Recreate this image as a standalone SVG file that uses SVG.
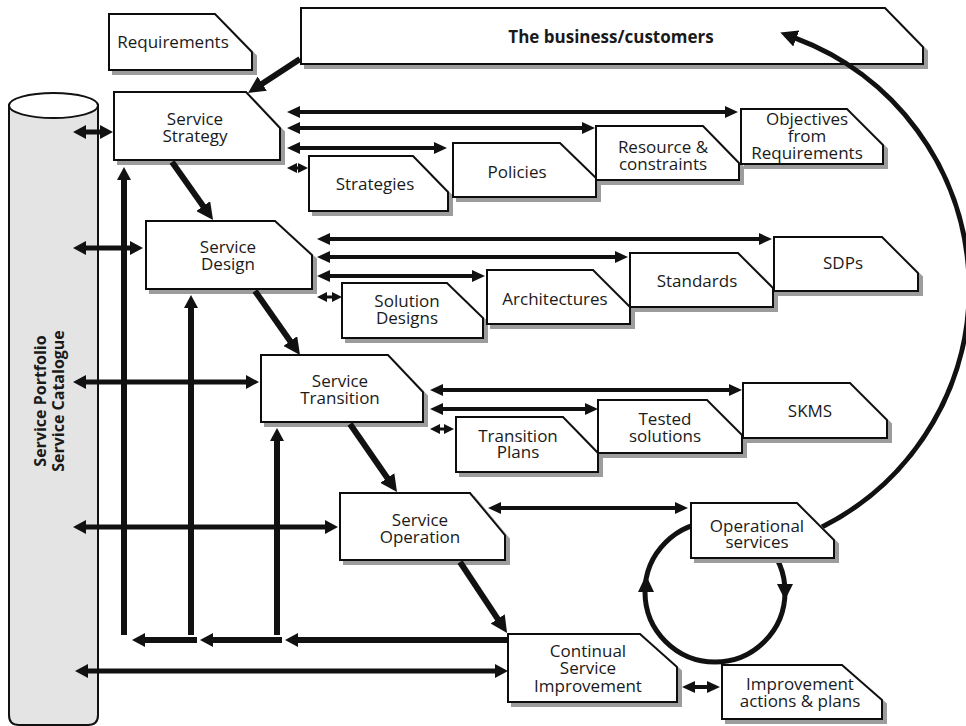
<svg xmlns="http://www.w3.org/2000/svg" width="966" height="726" viewBox="0 0 966 726">
  <style>
    .bx{fill:#fff;stroke:#111;stroke-width:2;filter:url(#ds)}
    .t{font-family:"Open Sans","Liberation Sans",sans-serif;font-size:17px;fill:#1a1a1a;text-anchor:middle}
    .tb{font-weight:bold}
    .vt{font-family:"Open Sans","Liberation Sans",sans-serif;font-size:16px;font-weight:bold;fill:#1a1a1a;text-anchor:middle}
    .l3{stroke:#111;stroke-width:3;fill:none;marker-start:url(#a3);marker-end:url(#a3)}
    .l4{stroke:#111;stroke-width:4;fill:none;marker-start:url(#a4);marker-end:url(#a4)}
    .l5{stroke:#111;stroke-width:5;fill:none;marker-start:url(#a6);marker-end:url(#a6)}
    .up{stroke:#111;stroke-width:6;fill:none;marker-end:url(#a6)}
    .dg{stroke:#111;stroke-width:6;fill:none;marker-end:url(#a7)}
    .hd{fill:#111}
  </style>
  <defs>
    <filter id="ds" x="-5%" y="-10%" width="115%" height="130%">
      <feOffset in="SourceAlpha" dx="4" dy="4" result="o"/>
      <feFlood flood-color="#9c9c9c"/>
      <feComposite in2="o" operator="in" result="s"/>
      <feGaussianBlur in="s" stdDeviation="0.7" result="b"/>
      <feMerge><feMergeNode in="b"/><feMergeNode in="SourceGraphic"/></feMerge>
    </filter>
    <marker id="a3" markerUnits="userSpaceOnUse" viewBox="0 0 10 10" markerWidth="10" markerHeight="10" refX="1" refY="5" orient="auto-start-reverse">
      <path d="M0,0 L10,5 L0,10 z" fill="#111"/>
    </marker>
    <marker id="a4" markerUnits="userSpaceOnUse" viewBox="0 0 13 12" markerWidth="13" markerHeight="12" refX="1" refY="6" orient="auto-start-reverse">
      <path d="M0,0 L13,6 L0,12 z" fill="#111"/>
    </marker>
    <marker id="a6" markerUnits="userSpaceOnUse" viewBox="0 0 13 14" markerWidth="13" markerHeight="14" refX="1" refY="7" orient="auto-start-reverse">
      <path d="M0,0 L13,7 L0,14 z" fill="#111"/>
    </marker>
    <marker id="a7" markerUnits="userSpaceOnUse" viewBox="0 0 17 17" markerWidth="17" markerHeight="17" refX="1" refY="8.5" orient="auto">
      <path d="M0,0 L17,8.5 L0,17 z" fill="#111"/>
    </marker>
  </defs>

  <rect width="966" height="726" fill="#fff"/>

  <!-- repository cylinder on the left -->
  <g id="portfolio">
    <path d="M9,105 L9,715 Q9,725 19,725 L88,725 Q98,725 98,715 L98,105 Z" fill="#e4e4e4" stroke="#111" stroke-width="2"/>
    <ellipse cx="53.5" cy="105.5" rx="44.5" ry="12.5" fill="#fff" stroke="#111" stroke-width="2"/>
    <text class="vt" transform="translate(45.5,401) rotate(-90)">Service Portfolio</text>
    <text class="vt" transform="translate(64,401) rotate(-90)">Service Catalogue</text>
  </g>

  <g id="requirements">
    <polygon class="bx" points="109,14 215,14 252,52 252,70 109,70"/>
    <text class="t" x="173" y="48">Requirements</text>
  </g>
  <g id="business">
    <polygon class="bx" points="301,8 885,8 923,47 923,64 301,64"/>
    <text class="t tb" x="611" y="43">The business/customers</text>
  </g>

  <g id="service-strategy">
    <polygon class="bx" points="114,92 246,92 280,128 280,160 114,160"/>
    <text class="t" x="195" y="125">Service</text>
    <text class="t" x="195" y="142">Strategy</text>
  </g>
  <g id="service-design">
    <polygon class="bx" points="146,221 275,221 312,255 312,289 146,289"/>
    <text class="t" x="228" y="253">Service</text>
    <text class="t" x="228" y="270">Design</text>
  </g>
  <g id="service-transition">
    <polygon class="bx" points="261,355 388,355 423,392 423,422 261,422"/>
    <text class="t" x="340" y="387">Service</text>
    <text class="t" x="340" y="404">Transition</text>
  </g>
  <g id="service-operation">
    <polygon class="bx" points="340,493 470,493 505,535 505,560 340,560"/>
    <text class="t" x="420" y="526">Service</text>
    <text class="t" x="420" y="543">Operation</text>
  </g>
  <g id="csi">
    <polygon class="bx" points="508,634 640,634 677,667 677,702 508,702"/>
    <text class="t" x="588" y="657">Continual</text>
    <text class="t" x="588" y="674">Service</text>
    <text class="t" x="588" y="692">Improvement</text>
  </g>

  <g id="strategies">
    <polygon class="bx" points="309,156 413,156 448,192 448,211 309,211"/>
    <text class="t" x="375" y="190">Strategies</text>
  </g>
  <g id="policies">
    <polygon class="bx" points="453,143 560,143 596,178 596,197 453,197"/>
    <text class="t" x="517" y="178">Policies</text>
  </g>
  <g id="resources">
    <polygon class="bx" points="596,126 703,126 739,163 739,180 596,180"/>
    <text class="t" x="663" y="153">Resource &amp;</text>
    <text class="t" x="663" y="170">constraints</text>
  </g>
  <g id="objectives">
    <polygon class="bx" points="741,109 847,109 883,145 883,164 741,164"/>
    <text class="t" x="807" y="125">Objectives</text>
    <text class="t" x="807" y="142">from</text>
    <text class="t" x="807" y="159">Requirements</text>
  </g>

  <g id="solution-designs">
    <polygon class="bx" points="342,283 447,283 483,318 483,338 342,338"/>
    <text class="t" x="407" y="307">Solution</text>
    <text class="t" x="407" y="324">Designs</text>
  </g>
  <g id="architectures">
    <polygon class="bx" points="487,270 593,270 630,307 630,324 487,324"/>
    <text class="t" x="555" y="305">Architectures</text>
  </g>
  <g id="standards">
    <polygon class="bx" points="630,253 738,253 773,288 773,307 630,307"/>
    <text class="t" x="697" y="287">Standards</text>
  </g>
  <g id="sdps">
    <polygon class="bx" points="774,237 882,237 918,273 918,291 774,291"/>
    <text class="t" x="843" y="269">SDPs</text>
  </g>

  <g id="transition-plans">
    <polygon class="bx" points="456,417 563,417 598,453 598,472 456,472"/>
    <text class="t" x="518" y="442">Transition</text>
    <text class="t" x="518" y="458">Plans</text>
  </g>
  <g id="tested-solutions">
    <polygon class="bx" points="598,400 707,400 742,435 742,453 598,453"/>
    <text class="t" x="665" y="425">Tested</text>
    <text class="t" x="665" y="442">solutions</text>
  </g>
  <g id="skms">
    <polygon class="bx" points="743,383 850,383 887,420 887,438 743,438"/>
    <text class="t" x="810" y="417">SKMS</text>
  </g>

  <g id="improvement-actions">
    <polygon class="bx" points="722,665 842,665 882,700 882,719 722,719"/>
    <text class="t" x="800" y="690">Improvement</text>
    <text class="t" x="800" y="707">actions &amp; plans</text>
  </g>

  <g id="connectors">
    <!-- lifecycle stages to and from the portfolio -->
    <path class="l5" d="M85,132 L101,132"/>
    <path class="l5" d="M85,248 L131,248"/>
    <path class="l5" d="M85,382 L247,382"/>
    <path class="l5" d="M85,527 L326,527"/>
    <path class="l5" d="M87,671 L496,671"/>

    <!-- improvement feedback paths -->
    <path class="up" d="M124,635 L124,179"/>
    <path class="up" d="M191,635 L191,307"/>
    <path class="up" d="M277,635 L277,440"/>
    <path class="up" d="M507,640 L297,640"/>
    <path class="up" d="M282,640 L212,640"/>
    <path class="up" d="M197,640 L144,640"/>

    <!-- stage to stage -->
    <path class="dg" d="M300,59 L261.4,84.2" stroke-width="5"/>
    <path class="dg" d="M172,162 L203.8,206.9"/>
    <path class="dg" d="M255,291 L290.8,341.9"/>
    <path class="dg" d="M350,424 L387.9,478.8"/>
    <path class="dg" d="M460,562 L498.2,619.7"/>

    <!-- strategy outputs -->
    <path class="l4" d="M299,112 L726,112"/>
    <path class="l4" d="M299,128 L583,128"/>
    <path class="l4" d="M299,148 L435,148"/>
    <path class="l3" d="M296,168 L299,168"/>

    <!-- design outputs -->
    <path class="l4" d="M329,239 L760,239"/>
    <path class="l4" d="M329,257 L616,257"/>
    <path class="l4" d="M329,276 L473,276"/>
    <path class="l3" d="M326,297 L333,297"/>

    <!-- transition outputs -->
    <path class="l4" d="M442,390 L730,390"/>
    <path class="l4" d="M442,409 L586,409"/>
    <path class="l3" d="M439,429 L445,429"/>

    <!-- operation and improvement outputs -->
    <path class="l4" d="M500,508 L676,508"/>
    <path class="l4" d="M694,687 L708,687"/>

    <!-- service loop and return to the business -->
    <circle cx="715" cy="592" r="70" fill="none" stroke="#111" stroke-width="5"/>
    <polygon class="hd" points="777,584 793,584 785,600"/>
    <polygon class="hd" points="638,592 654,592 646,575"/>
    <path d="M822,527 A267,267 0 0 0 795.3,38.2" fill="none" stroke="#111" stroke-width="5" marker-end="url(#a7)"/>
  </g>

  <!-- drawn last so it sits over the service loop -->
  <g id="operational-services">
    <polygon class="bx" points="691,503 797,503 834,540 834,558 691,558"/>
    <text class="t" x="757" y="532">Operational</text>
    <text class="t" x="757" y="548">services</text>
  </g>
</svg>
